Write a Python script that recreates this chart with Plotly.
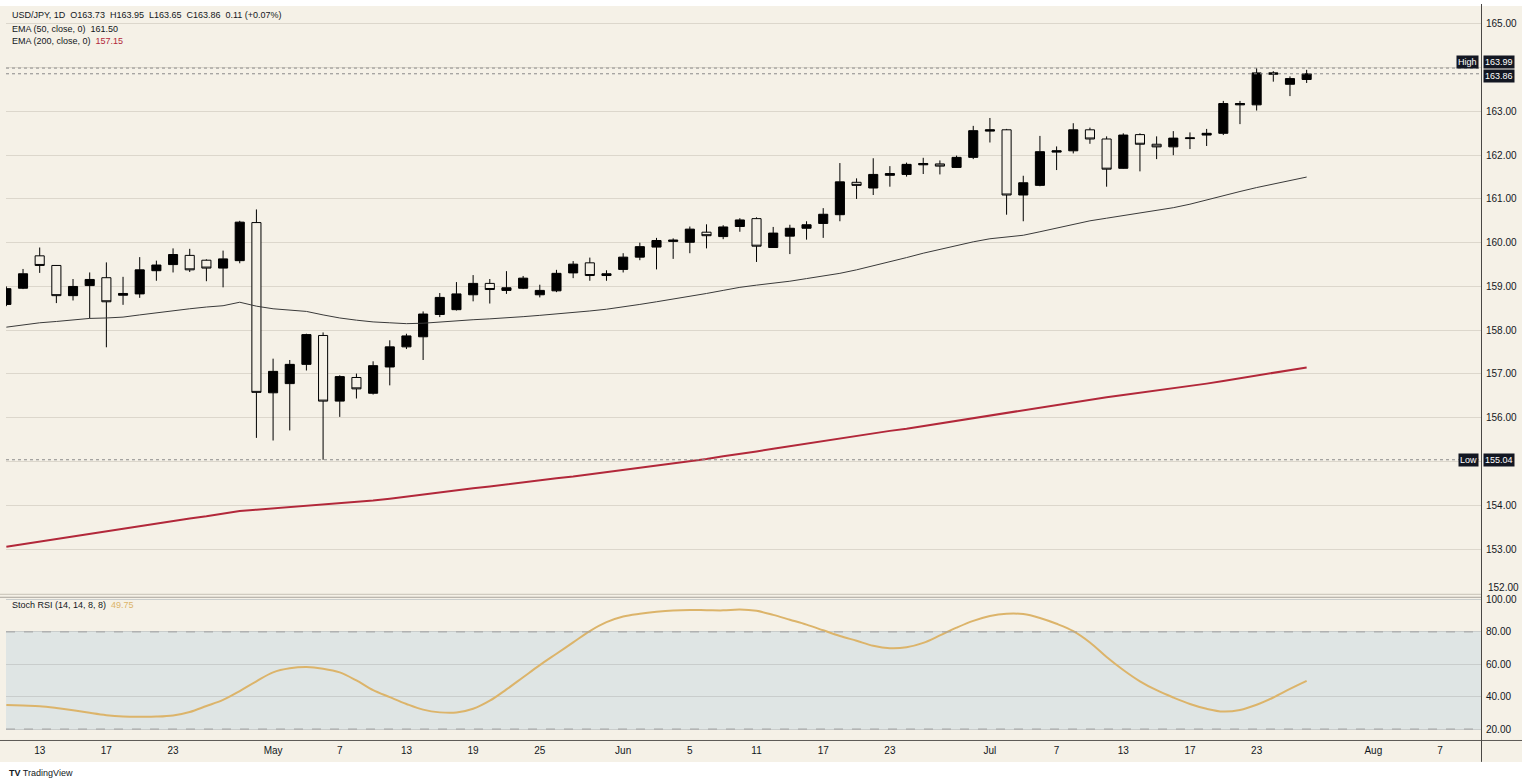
import plotly.graph_objects as go
import pandas as pd

# ---------------- data ----------------
dates = pd.bdate_range("2026-04-09", "2026-07-28")  # daily trading bars (Mon-Fri)

opens = [158.59, 158.96, 159.70, 159.48, 158.79, 159.02, 159.20, 158.80, 158.83, 159.36,
         159.50, 159.71, 159.60, 159.42, 159.59, 160.46, 156.57, 156.78, 157.22, 157.88,
         156.38, 156.92, 156.56, 157.16, 157.62, 157.85, 158.36, 158.47, 158.81, 159.07,
         158.91, 158.96, 158.81, 158.90, 159.31, 159.54, 159.25, 159.39, 159.67, 159.90,
         160.03, 160.01, 160.24, 160.14, 160.37, 160.55, 159.89, 160.15, 160.33, 160.44,
         160.64, 161.38, 161.25, 161.54, 161.56, 161.78, 161.80, 161.72, 161.95, 162.55,
         162.58, 161.09, 161.31, 162.07, 162.10, 162.58, 162.37, 161.70, 162.47, 162.25,
         162.19, 162.40, 162.46, 162.50, 163.15, 163.15, 163.85, 163.62, 163.73]
highs = [159.00, 159.40, 159.89, 159.49, 159.17, 159.32, 159.55, 159.22, 159.67, 159.59,
         159.87, 159.86, 159.62, 159.82, 160.50, 160.76, 157.35, 157.32, 157.92, 157.95,
         156.97, 157.01, 157.29, 157.77, 157.92, 158.43, 158.85, 159.10, 159.26, 159.17,
         159.35, 159.24, 159.04, 159.38, 159.58, 159.66, 159.37, 159.76, 160.00, 160.11,
         160.10, 160.37, 160.42, 160.40, 160.56, 160.58, 160.36, 160.41, 160.49, 160.79,
         161.82, 161.47, 161.93, 161.75, 161.83, 161.94, 161.88, 161.99, 162.67, 162.85,
         162.60, 161.53, 162.44, 162.20, 162.73, 162.63, 162.43, 162.50, 162.50, 162.43,
         162.55, 162.52, 162.60, 163.24, 163.24, 163.99, 163.92, 163.80, 163.95]
lows = [158.55, 158.94, 159.31, 158.62, 158.68, 158.27, 157.61, 158.58, 158.74, 159.13,
        159.32, 159.33, 159.12, 158.98, 159.53, 155.54, 155.48, 155.71, 157.08, 155.04,
        156.02, 156.44, 156.53, 156.74, 157.57, 157.32, 158.30, 158.45, 158.66, 158.61,
        158.83, 158.94, 158.75, 158.87, 159.19, 159.13, 159.13, 159.32, 159.60, 159.39,
        159.63, 159.76, 159.87, 160.08, 160.25, 159.56, 159.88, 159.74, 160.07, 160.11,
        160.49, 161.00, 161.09, 161.28, 161.51, 161.57, 161.56, 161.71, 161.91, 162.29,
        160.64, 160.49, 161.29, 161.66, 162.04, 162.26, 161.28, 161.69, 161.63, 161.91,
        162.00, 162.14, 162.21, 162.46, 162.71, 163.02, 163.68, 163.35, 163.65]
closes = [158.95, 159.29, 159.48, 158.79, 159.00, 159.16, 158.65, 158.84, 159.38, 159.49,
          159.73, 159.38, 159.42, 159.63, 160.47, 156.58, 157.06, 157.22, 157.90, 156.38,
          156.94, 156.66, 157.19, 157.62, 157.87, 158.37, 158.75, 158.83, 159.07, 158.93,
          158.97, 159.19, 158.91, 159.30, 159.51, 159.25, 159.29, 159.67, 159.91, 160.05,
          160.06, 160.31, 160.16, 160.36, 160.52, 159.92, 160.22, 160.33, 160.41, 160.65,
          161.39, 161.31, 161.56, 161.58, 161.79, 161.81, 161.75, 161.95, 162.56, 162.58,
          161.09, 161.37, 162.08, 162.10, 162.58, 162.37, 161.68, 162.46, 162.25, 162.19,
          162.39, 162.38, 162.50, 163.18, 163.18, 163.88, 163.88, 163.75, 163.86]

ema50 = [158.07, 158.12, 158.17, 158.20, 158.24, 158.27, 158.28, 158.30, 158.35, 158.40,
         158.45, 158.49, 158.53, 158.56, 158.64, 158.55, 158.49, 158.46, 158.43, 158.35,
         158.28, 158.23, 158.19, 158.17, 158.15, 158.16, 158.19, 158.21, 158.24, 158.26,
         158.28, 158.31, 158.34, 158.37, 158.40, 158.44, 158.48, 158.53, 158.59, 158.65,
         158.71, 158.77, 158.84, 158.91, 158.98, 159.03, 159.07, 159.12, 159.18, 159.24,
         159.30, 159.38, 159.47, 159.56, 159.66, 159.76, 159.85, 159.94, 160.02, 160.09,
         160.13, 160.17, 160.25, 160.33, 160.42, 160.50, 160.56, 160.62, 160.68, 160.74,
         160.80, 160.88, 160.98, 161.08, 161.17, 161.26, 161.34, 161.42, 161.50]
ema200 = [153.05, 153.11, 153.17, 153.22, 153.28, 153.34, 153.40, 153.46, 153.52, 153.58,
          153.64, 153.70, 153.75, 153.81, 153.87, 153.90, 153.93, 153.96, 153.99, 154.02,
          154.04, 154.07, 154.11, 154.15, 154.20, 154.24, 154.29, 154.34, 154.39, 154.43,
          154.48, 154.53, 154.58, 154.62, 154.66, 154.71, 154.75, 154.80, 154.85, 154.90,
          154.95, 155.01, 155.06, 155.12, 155.17, 155.23, 155.29, 155.35, 155.41, 155.46,
          155.52, 155.58, 155.64, 155.70, 155.75, 155.81, 155.87, 155.93, 155.99, 156.05,
          156.11, 156.17, 156.24, 156.30, 156.36, 156.42, 156.47, 156.52, 156.57, 156.62,
          156.67, 156.72, 156.78, 156.84, 156.90, 156.96, 157.02, 157.09, 157.15]
stoch_rsi = [34.9, 34.5, 34.1, 33.0, 31.6, 30.0, 28.6, 27.8, 27.6, 27.7,
             28.4, 30.5, 34.2, 38.0, 43.5, 49.5, 55.0, 57.5, 58.3, 57.3,
             55.0, 50.0, 44.0, 39.7, 35.5, 32.0, 30.3, 30.2, 32.5, 37.5,
             44.5, 52.0, 59.5, 66.5, 73.5, 80.5, 86.0, 89.5, 91.2, 92.4,
             93.2, 93.5, 93.4, 93.3, 93.8, 93.0, 90.5, 87.5, 84.5, 81.0,
             77.5, 74.5, 71.4, 69.9, 70.5, 73.2, 77.8, 82.6, 86.8, 89.8,
             91.2, 91.0, 88.6, 85.0, 80.5, 73.5, 64.5, 56.5, 49.5, 44.0,
             39.5, 35.5, 32.5, 30.8, 31.8, 35.0, 39.5, 44.8, 49.75]

tick_dates = ["2026-04-13", "2026-04-17", "2026-04-23", "2026-05-01", "2026-05-07",
              "2026-05-13", "2026-05-19", "2026-05-25", "2026-06-01", "2026-06-05",
              "2026-06-11", "2026-06-17", "2026-06-23", "2026-07-01", "2026-07-07",
              "2026-07-13", "2026-07-17", "2026-07-23", "2026-08-03", "2026-08-07"]
tick_labels = ["13", "17", "23", "May", "7", "13", "19", "25", "Jun", "5",
               "11", "17", "23", "Jul", "7", "13", "17", "23", "Aug", "7"]
price_ticks = list(range(152, 166))
stoch_ticks = [20, 40, 60, 80, 100]

# ---------------- style ----------------
W, H = 1528, 784
ML, MR, MT, MB = 6, 47, 0, 44
PW, PH = W - ML - MR, H - MT - MB


def px(x):
    return (x - ML) / PW


def py(y):
    return (PH - (y - MT)) / PH


BG = "#f5f1e7"
GRID = "#dcd7cc"
TXT = "#131722"
FONT = "Liberation Sans, Arial"
RED = "#b2283a"
ORANGE = "#dcb46a"

fig = go.Figure()

fig.add_trace(go.Candlestick(
    x=dates, open=opens, high=highs, low=lows, close=closes,
    increasing=dict(line=dict(color="#000000", width=1), fillcolor="#000000"),
    decreasing=dict(line=dict(color="#000000", width=1), fillcolor=BG),
    whiskerwidth=0, hoverinfo="skip", showlegend=False, xaxis="x", yaxis="y"))

fig.add_trace(go.Scatter(x=dates, y=ema50, mode="lines",
                         line=dict(color="#3a3a3a", width=1),
                         hoverinfo="skip", showlegend=False, xaxis="x", yaxis="y"))
fig.add_trace(go.Scatter(x=dates, y=ema200, mode="lines",
                         line=dict(color=RED, width=2),
                         hoverinfo="skip", showlegend=False, xaxis="x", yaxis="y"))
fig.add_trace(go.Scatter(x=dates, y=stoch_rsi, mode="lines",
                         line=dict(color=ORANGE, width=2, shape="spline", smoothing=1),
                         hoverinfo="skip", showlegend=False, xaxis="x2", yaxis="y2"))

x_range = ["2026-04-08 23:30", "2026-08-11 11:00"]
rb = [dict(bounds=["sat", "mon"])]

main_top_val = 165 + (20 - 0) / 44
main_bot_val = 165 - (593 - 20) / 44
st_top = 80 + (631.3 - 597) / 1.628
st_bot = 20 - (740 - 729) / 1.628

hi = max(highs)
lo = min(lows)
last = closes[-1]

# price-axis labels: those hidden behind the High/Low badges are left blank (grid stays)
axis_vals = price_ticks[1:]
axis_text = ["" if (abs(t - hi) < 0.3 or abs(t - lo) < 0.3) else f"{t:.2f}" for t in axis_vals]

shapes = [
    dict(type="rect", xref="paper", yref="paper", x0=px(0), x1=px(1522), y0=py(762), y1=py(2),
         fillcolor=BG, line=dict(width=0), layer="below"),
    dict(type="rect", xref="paper", yref="y2", x0=0, x1=1, y0=20, y1=80,
         fillcolor="#dfe5e4", line=dict(width=0), layer="below"),
    dict(type="line", xref="paper", yref="y2", x0=0, x1=1, y0=80, y1=80,
         line=dict(color="#a0a0a0", width=1, dash="dash")),
    dict(type="line", xref="paper", yref="y2", x0=0, x1=1, y0=20, y1=20,
         line=dict(color="#a0a0a0", width=1, dash="dash")),
    dict(type="line", xref="paper", yref="y", x0=0, x1=1, y0=hi, y1=hi,
         line=dict(color="#8a8a8a", width=1, dash="dot")),
    dict(type="line", xref="paper", yref="y", x0=0, x1=1, y0=last, y1=last,
         line=dict(color="#8a8a8a", width=1, dash="dot")),
    dict(type="line", xref="paper", yref="y", x0=0, x1=1, y0=lo, y1=lo,
         line=dict(color="#8a8a8a", width=1, dash="dot")),
    # panel separators
    dict(type="line", xref="paper", yref="paper", x0=px(0), x1=px(1481), y0=py(593.5), y1=py(593.5),
         line=dict(color="#c6c1b6", width=1)),
    dict(type="line", xref="paper", yref="paper", x0=px(0), x1=px(1481), y0=py(596.5), y1=py(596.5),
         line=dict(color="#a9a59c", width=1)),
    # time-axis top border
    dict(type="line", xref="paper", yref="paper", x0=px(0), x1=px(1522), y0=py(740.5), y1=py(740.5),
         line=dict(color="#5d5a55", width=1)),
    # price-axis border
    dict(type="line", xref="paper", yref="paper", x0=px(1481.5), x1=px(1481.5), y0=py(762), y1=py(0),
         line=dict(color="#4a4845", width=1)),
]

o, h, l, c = opens[-1], highs[-1], lows[-1], closes[-1]
chg = c - closes[-2]
pct = chg / closes[-2] * 100
row1 = f"USD/JPY, 1D  O{o:.2f}  H{h:.2f}  L{l:.2f}  C{c:.2f}  {chg:.2f} ({pct:+.2f}%)"
row2 = f"EMA (50, close, 0)  {ema50[-1]:.2f}"
row3 = f"EMA (200, close, 0)  <span style='color:{RED}'>{ema200[-1]:.2f}</span>"
row4 = f"Stoch RSI (14, 14, 8, 8)  <span style='color:{ORANGE}'>{stoch_rsi[-1]:.2f}</span>"

lf = dict(family=FONT, size=9, color=TXT)
bf = dict(family=FONT, size=9, color="#ffffff")
annotations = [
    dict(text=row1, xref="paper", yref="paper", x=px(10), y=py(11), xanchor="left", yanchor="middle",
         showarrow=False, font=lf),
    dict(text=row2, xref="paper", yref="paper", x=px(10), y=py(25), xanchor="left", yanchor="middle",
         showarrow=False, font=lf),
    dict(text=row3, xref="paper", yref="paper", x=px(10), y=py(37), xanchor="left", yanchor="middle",
         showarrow=False, font=lf),
    dict(text=row4, xref="paper", yref="paper", x=px(10), y=py(604), xanchor="left", yanchor="middle",
         showarrow=False, font=lf),
    # lowest price-axis label, squeezed above the indicator pane
    dict(text=f"{price_ticks[0]:.2f}", xref="paper", yref="paper", x=px(1486), y=py(587),
         xanchor="left", yanchor="middle", showarrow=False,
         font=dict(family=FONT, size=10, color=TXT)),
    # badges
    dict(text=f"{hi:.2f}", xref="paper", yref="y", x=px(1483), y=hi, yshift=6, xanchor="left",
         yanchor="middle", showarrow=False, bgcolor=TXT, borderpad=1, font=bf),
    dict(text=f"{last:.2f}", xref="paper", yref="y", x=px(1483), y=last, yshift=-2, xanchor="left",
         yanchor="middle", showarrow=False, bgcolor=TXT, borderpad=1, font=bf),
    dict(text="High", xref="paper", yref="y", x=px(1479), y=hi, yshift=6, xanchor="right",
         yanchor="middle", showarrow=False, bgcolor=TXT, borderpad=1, font=bf),
    dict(text=f"{lo:.2f}", xref="paper", yref="y", x=px(1483), y=lo, xanchor="left",
         yanchor="middle", showarrow=False, bgcolor=TXT, borderpad=1, font=bf),
    dict(text="Low", xref="paper", yref="y", x=px(1479), y=lo, xanchor="right",
         yanchor="middle", showarrow=False, bgcolor=TXT, borderpad=1, font=bf),
    # logo
    dict(text="<b>TV</b> TradingView", xref="paper", yref="paper", x=px(7), y=py(773),
         xanchor="left", yanchor="middle", showarrow=False,
         font=dict(family=FONT, size=9, color=TXT)),
]

fig.update_layout(
    width=W, height=H, autosize=False,
    margin=dict(l=ML, r=MR, t=MT, b=MB, pad=0),
    paper_bgcolor="#ffffff", plot_bgcolor="rgba(0,0,0,0)",
    showlegend=False, hovermode=False, boxgap=0.22,
    xaxis=dict(domain=[0, 1], anchor="y", type="date", range=x_range, rangebreaks=rb,
               rangeslider=dict(visible=False), showgrid=False, showticklabels=False,
               zeroline=False, showline=False, ticks=""),
    xaxis2=dict(domain=[0, 1], anchor="y2", type="date", range=x_range, rangebreaks=rb,
                matches="x", showgrid=False, zeroline=False, showline=False, ticks="",
                tickmode="array", tickvals=tick_dates, ticktext=tick_labels,
                ticklabelstandoff=3,
                tickfont=dict(family=FONT, size=10, color=TXT)),
    yaxis=dict(domain=[py(593), 1], anchor="x", side="right", range=[main_bot_val, main_top_val],
               tickmode="array", tickvals=axis_vals, ticktext=axis_text,
               gridcolor=GRID, gridwidth=1, zeroline=False, showline=False, ticks="",
               ticklabelstandoff=4,
               tickfont=dict(family=FONT, size=10, color=TXT)),
    yaxis2=dict(domain=[0, py(597)], anchor="x2", side="right", range=[st_bot, st_top],
                tickmode="array", tickvals=stoch_ticks, tickformat=".2f",
                gridcolor="#c9cdcc", gridwidth=1, zeroline=False, showline=False, ticks="",
                ticklabelstandoff=4,
                tickfont=dict(family=FONT, size=10, color=TXT)),
    shapes=shapes, annotations=annotations,
)

fig.write_html("out.html", include_plotlyjs=True, config={"displayModeBar": False})
